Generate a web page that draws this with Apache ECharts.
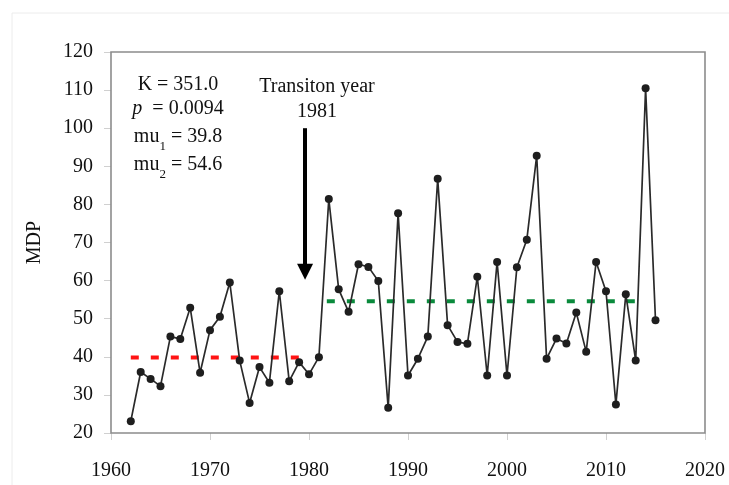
<!DOCTYPE html>
<html>
<head>
<meta charset="utf-8">
<script src="https://cdn.jsdelivr.net/npm/echarts@6/dist/echarts.min.js"></script>
<style>
  html, body { margin: 0; padding: 0; background: #fff; }
  #chart { width: 729px; height: 485px; }
</style>
</head>
<body>
<div id="chart"></div>
<script>
// annual MDP series, 1962-2015
var years = [];
for (var y = 1962; y <= 2015; y++) years.push(y);
var mdp = [
    23.1, 36.0, 34.2, 32.3, 45.3, 44.7, 52.9, 35.8, 47.0, 50.5,
    59.5, 39.0, 27.9, 37.3, 33.2, 57.2, 33.6, 38.6, 35.4, 39.9,
    81.4, 57.7, 51.8, 64.3, 63.6, 59.9, 26.6, 77.7, 35.1, 39.5,
    45.3, 86.7, 48.3, 43.9, 43.4, 61.0, 35.1, 64.9, 35.1, 63.5,
    70.7, 92.8, 39.5, 44.8, 43.5, 51.6, 41.3, 64.9, 57.2, 27.5,
    56.4, 39.0, 110.5, 49.6
];

// means before / after the change point
var mu1 = 39.8, mu2 = 54.6;
var mu1Span = [1962, 1979.5];
var mu2Span = [1981.8, 2014];

// arrow marking the transition
var arrowYear = 1979.6;
var arrowFrom = 100, arrowTo = 62.3;

var xTicks = { min: 1960, max: 2020, interval: 10 };
var yTicks = { min: 20, max: 120, interval: 10 };

var serif = '"Liberation Serif", "Times New Roman", serif';

function seg(span, v) {
    return [[span[0], v], [span[1], v]];
}

function note(x, y, text, rich) {
    var style = { text: text, align: 'center', verticalAlign: 'middle' };
    if (rich) style.rich = rich;
    else { style.font = '20px ' + serif; style.fill = '#111'; }
    return { type: 'text', x: x, y: y, z: 100, silent: true, style: style };
}

var subRich = {
    a: { fontFamily: serif, fontSize: 20, fill: '#111', lineHeight: 22, verticalAlign: 'middle' },
    s: { fontFamily: serif, fontSize: 13, fill: '#111', lineHeight: 12, verticalAlign: 'bottom', padding: [0, 0, -5, 0] }
};

var chart = echarts.init(document.getElementById('chart'));
chart.setOption({
    animation: false,
    backgroundColor: '#fff',
    grid: { left: 111, top: 52, width: 594, height: 381, containLabel: false },
    xAxis: {
        type: 'value',
        min: xTicks.min, max: xTicks.max, interval: xTicks.interval,
        axisLine: { show: false },
        axisTick: { show: true, inside: false, length: 7, lineStyle: { color: '#d0d0d0' } },
        splitLine: { show: false },
        axisLabel: {
            fontFamily: serif, fontSize: 20, color: '#111', margin: 28,
            formatter: function (v) { return String(v); }
        }
    },
    yAxis: {
        type: 'value',
        min: yTicks.min, max: yTicks.max, interval: yTicks.interval,
        name: 'MDP',
        nameLocation: 'middle',
        nameRotate: 90,
        nameGap: 66,
        nameTextStyle: { fontFamily: serif, fontSize: 20, color: '#111' },
        axisLine: { show: false },
        axisTick: { show: true, inside: false, length: 7, lineStyle: { color: '#d0d0d0' } },
        splitLine: { show: false },
        axisLabel: { fontFamily: serif, fontSize: 20, color: '#111', margin: 18 }
    },
    graphic: [
        {
            type: 'rect', silent: true, z: -1,
            shape: { x: 12, y: 13, width: 740, height: 500 },
            style: { fill: 'none', stroke: '#ececec', lineWidth: 1 }
        },
        {
            type: 'rect', silent: true, z: 100,
            shape: { x: 111, y: 52, width: 594, height: 381 },
            style: { fill: 'none', stroke: '#8c8c8c', lineWidth: 1.6 }
        },
        note(178, 85, 'K = 351.0'),
        note(178, 109, '{i|p}{a|  = 0.0094}', {
            i: { fontFamily: serif, fontSize: 20, fontStyle: 'italic', fill: '#111' },
            a: { fontFamily: serif, fontSize: 20, fill: '#111' }
        }),
        note(178, 137, '{a|mu}{s|1}{a| = 39.8}', subRich),
        note(178, 165, '{a|mu}{s|2}{a| = 54.6}', subRich),
        note(317, 87, 'Transiton year'),
        note(317, 112, '1981')
    ],
    series: [
        {
            name: 'mu1',
            type: 'line',
            data: seg(mu1Span, mu1),
            symbol: 'none',
            z: 2,
            lineStyle: { color: '#ff1414', width: 4, type: [8, 12] }
        },
        {
            name: 'mu2',
            type: 'line',
            data: seg(mu2Span, mu2),
            symbol: 'none',
            z: 2,
            lineStyle: { color: '#0a8a3c', width: 4, type: [8, 12] }
        },
        {
            name: 'MDP',
            type: 'line',
            data: years.map(function (yr, i) { return [yr, mdp[i]]; }),
            symbol: 'circle',
            symbolSize: 8,
            z: 5,
            itemStyle: { color: '#1e1e1e' },
            lineStyle: { color: '#2a2a2a', width: 1.7 },
            markLine: {
                silent: true,
                symbol: ['none', 'triangle'],
                symbolSize: [16, 16],
                symbolRotate: 180,
                label: { show: false },
                lineStyle: { color: '#000', width: 4, type: 'solid' },
                data: [[{ coord: [arrowYear, arrowFrom] }, { coord: [arrowYear, arrowTo] }]]
            }
        }
    ]
});
</script>
</body>
</html>
